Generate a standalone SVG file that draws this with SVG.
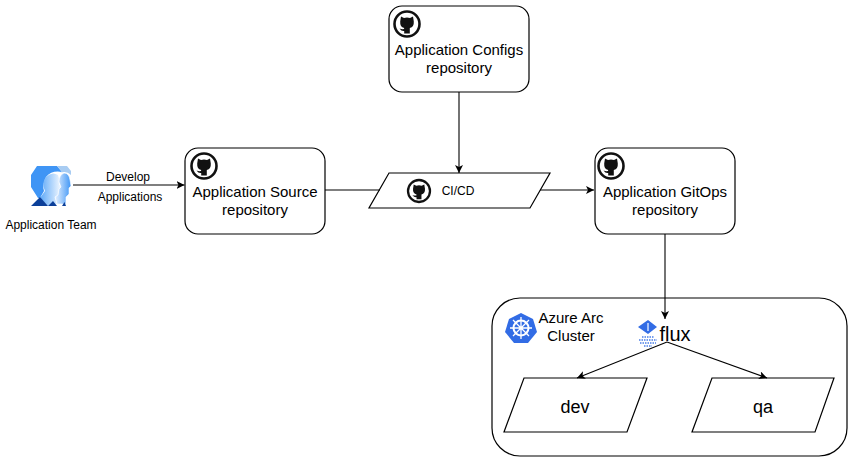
<svg xmlns="http://www.w3.org/2000/svg" width="853" height="461" viewBox="0 0 853 461">
<style>
.box{fill:#fff;stroke:#000;stroke-width:1.2}
.line{fill:none;stroke:#000;stroke-width:1.1}
text{font-family:"Liberation Sans",Arial,sans-serif;fill:#000;text-anchor:middle}
.t15{font-size:15px}.t12{font-size:12px}.t18{font-size:18px}
</style>
<defs>
<marker id="arr" markerWidth="10" markerHeight="10" refX="8" refY="4" orient="auto" markerUnits="userSpaceOnUse"><path d="M0 0L8 4L0 8L2 4Z" fill="#000"/></marker>
<linearGradient id="pf" x1="0" y1="0" x2="1" y2="0"><stop offset="0" stop-color="#5ca8f8"/><stop offset="1" stop-color="#f2f8ff"/></linearGradient>
<linearGradient id="pb" x1="0" y1="0" x2="1" y2="0"><stop offset="0" stop-color="#e8f2ff"/><stop offset="1" stop-color="#3f96f6"/></linearGradient>
<g id="gh">
<circle cx="0" cy="0" r="12.5" fill="#fff" stroke="#111" stroke-width="2.6"/>
<path d="M-6 -7.500L-3 -6Q0 -6.800 3 -6L6 -7.500L6.800 -2.500Q7.200 3 2.800 4L2.800 9.500L-2.800 9.500L-2.800 7Q-5.500 7.500 -7.500 4.500Q-5 5.500 -3 5L-2.800 4Q-7.200 3 -6.800 -2.500Z" fill="#111"/>
</g>
</defs>
<g id="team">
<path d="M31 175L37 166H57L62 172Q52 170 46 177Q42 185 44 191L40 198H38L31 187Z" fill="#3f95f5"/>
<path d="M57 166H67L71 171V175Q66 170 60 173L62 172Z" fill="#a8ccf2"/>
<path d="M40 198L45 191Q41 183 46 177Q52 171 58 175Q60 179 59 184L61 187L59 189L58 195L55 197L57 204L48 206Z" fill="url(#pf)"/>
<path d="M57 204L55 197L58 195L59 189L61 187L59 182Q59 175 64 173Q69 173 70 180L71 186L69 188L69 194L66 197L66 204Z" fill="url(#pb)" stroke="#fff" stroke-width=".6"/>
<path d="M31 206L40 197L48 206ZM48 206L53 201L57 206ZM62 206L64.500 202L66 206Z" fill="#0b3f99"/>
<text class="t12" x="51" y="229">Application Team</text>
</g>
<g id="source">
<rect class="box" x="185" y="148" width="140" height="86" rx="13"/>
<use href="#gh" x="204" y="166"/>
<text class="t15" x="255" y="197">Application Source</text>
<text class="t15" x="255" y="215">repository</text>
</g>
<g id="configs">
<rect class="box" x="389" y="6" width="140" height="86" rx="13"/>
<use href="#gh" x="407" y="24"/>
<text class="t15" x="459" y="55">Application Configs</text>
<text class="t15" x="459" y="73">repository</text>
</g>
<g id="gitops">
<rect class="box" x="595" y="148" width="140" height="86" rx="13"/>
<use href="#gh" x="611" y="166"/>
<text class="t15" x="665" y="197">Application GitOps</text>
<text class="t15" x="665" y="215">repository</text>
</g>
<g id="cicd">
<path class="box" d="M389 173H550L530 208H369Z"/>
<use href="#gh" x="419" y="191" transform="translate(419 191) scale(.88) translate(-419 -191)"/>
<text class="t12" x="458" y="195">CI/CD</text>
</g>
<g id="cluster">
<rect class="box" x="492" y="298" width="355" height="158" rx="28"/>
<path d="M521 313L533 319L537 332L528 343H514L505 332L509 319Z" fill="#326ce5"/>
<circle cx="521" cy="328" r="7.500" fill="none" stroke="#fff" stroke-width="2"/>
<path d="M521 317V339M510 328H532M513 320L529 336M529 320L513 336" stroke="#fff" stroke-width="1.300"/>
<text class="t15" x="571" y="323">Azure Arc</text>
<text class="t15" x="571" y="341">Cluster</text>
</g>
<g id="flux">
<path d="M648 320L657 327L648 334L638 327Z" fill="#326ce5"/>
<path d="M648 323V331" stroke="#cfe0ff" stroke-width="1.500"/>
<path d="M642 337H654M639 340H657M640 343H656M644 346H652" stroke="#4b7fe8" stroke-width="1.300" stroke-dasharray="1.500 1"/>
<text x="675" y="341" font-size="20px" font-family="Noto Sans,sans-serif">flux</text>
</g>
<g id="dev">
<path class="box" d="M524 378H647L627 432H504Z"/>
<text class="t18" x="575" y="413">dev</text>
</g>
<g id="qa">
<path class="box" d="M712 378H834L815 432H692Z"/>
<text class="t18" x="763" y="413">qa</text>
</g>
<g id="connectors">
<path class="line" d="M73 185H184.500" marker-end="url(#arr)"/>
<path class="line" d="M325 190H380"/>
<path class="line" d="M540 190H594" marker-end="url(#arr)"/>
<path class="line" d="M459 92V173" marker-end="url(#arr)"/>
<path class="line" d="M665 234V319" marker-end="url(#arr)"/>
<path class="line" d="M667 342L577 378" marker-end="url(#arr)"/>
<path class="line" d="M667 342L767 378" marker-end="url(#arr)"/>
<text class="t12" x="128" y="181">Develop</text>
<text class="t12" x="130" y="201">Applications</text>
</g>
</svg>
